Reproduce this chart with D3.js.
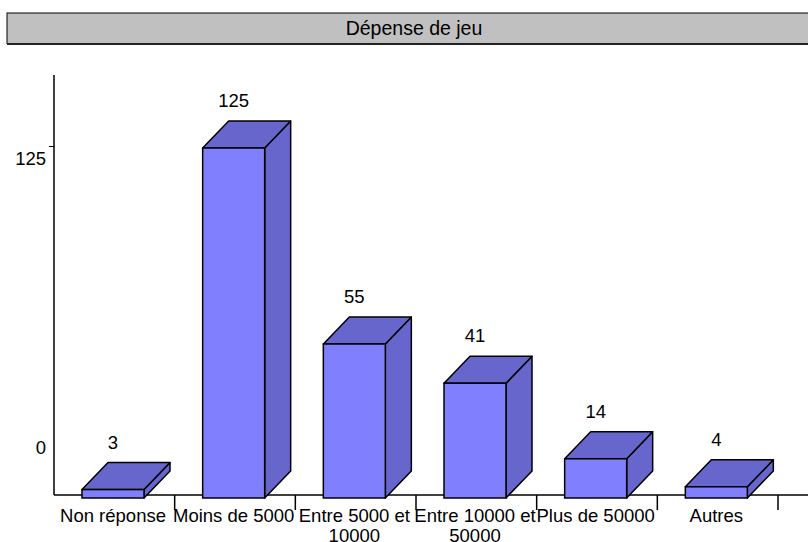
<!DOCTYPE html>
<html>
<head>
<meta charset="utf-8">
<script src="https://cdn.jsdelivr.net/npm/d3@7"></script>
<style>
  html, body { margin: 0; padding: 0; background: #fff; }
  svg { display: block; font-family: "Liberation Sans", Arial, sans-serif; }
</style>
</head>
<body>
<svg id="chart" width="808" height="542"></svg>
<script>
// Spending categories and respondent counts
const categories = ["Non réponse", "Moins de 5000", "Entre 5000 et 10000", "Entre 10000 et 50000", "Plus de 50000", "Autres"];
const counts = [3, 125, 55, 41, 14, 4];
const axisTicks = [0, 125];
const title = "Dépense de jeu";

// Category labels split into lines
const labelLines = [["Non réponse"], ["Moins de 5000"], ["Entre 5000 et", "10000"], ["Entre 10000 et", "50000"], ["Plus de 50000"], ["Autres"]];

const svg = d3.select("#chart");
const W = 808, H = 542;

const plotLeft = 54, plotRight = 778, baseY = 495;
const depthX = 26, depthY = 27;

const x = d3.scaleBand().domain(categories).range([plotLeft, plotRight]).paddingInner(0).paddingOuter(0);
const y = d3.scaleLinear().domain([0, 125]).range([498, 148]);
// Left axis has its own placement of the two reference ticks
const yAxisScale = d3.scaleLinear().domain([0, 125]).range([435, 146]);

const frontColor = "#8080ff";
const shadeColor = "#6666cc";

// Title bar
svg.append("rect")
  .attr("x", 7).attr("y", 13).attr("width", 820).attr("height", 30.5)
  .attr("fill", "#c0c0c0").attr("stroke", "#000").attr("stroke-width", 1);
svg.append("line")
  .attr("x1", 7).attr("x2", 808).attr("y1", 44).attr("y2", 44)
  .attr("stroke", "#222").attr("stroke-width", 2);
svg.append("text")
  .attr("x", 414).attr("y", 35)
  .attr("text-anchor", "middle")
  .attr("font-size", "19.5px")
  .attr("fill", "#000")
  .text(title);

// Axis lines
svg.append("line")
  .attr("x1", plotLeft).attr("x2", plotLeft).attr("y1", 75).attr("y2", baseY)
  .attr("stroke", "#000").attr("stroke-width", 1.5);
svg.append("line")
  .attr("x1", plotLeft).attr("x2", W).attr("y1", baseY).attr("y2", baseY)
  .attr("stroke", "#000").attr("stroke-width", 1.5);

// Left axis ticks and labels
const yAxis = d3.axisLeft(yAxisScale).tickValues(axisTicks).tickSize(5).tickSizeOuter(0).tickPadding(8);
const gy = svg.append("g").attr("transform", `translate(${plotLeft},0)`).call(yAxis);
gy.select(".domain").remove();
gy.selectAll(".tick line").attr("stroke", "#000").attr("stroke-width", 1)
  .attr("opacity", d => d === 0 ? 0 : 1);
gy.selectAll(".tick text")
  .attr("font-size", "18.5px").attr("font-family", "Liberation Sans, Arial, sans-serif")
  .attr("fill", "#000").attr("dy", "1.0em").attr("x", -8);

// Category separator ticks below the baseline
svg.selectAll("line.sep")
  .data(categories)
  .join("line")
  .attr("class", "sep")
  .attr("x1", d => x(d) + x.bandwidth()).attr("x2", d => x(d) + x.bandwidth())
  .attr("y1", baseY).attr("y2", baseY + 15)
  .attr("stroke", "#000").attr("stroke-width", 1.5);

// 3D bars
const faceOffset = 28, faceWidth = 62;
const bars = svg.selectAll("g.bar")
  .data(categories.map((c, i) => ({ c, v: counts[i] })))
  .join("g").attr("class", "bar");

const pts = arr => arr.map(p => p.join(",")).join(" ");

bars.each(function(d) {
  const g = d3.select(this);
  const x0 = x(d.c) + faceOffset, x1 = x0 + faceWidth;
  const yt = y(d.v), yb = y(0);
  g.append("polygon")
    .attr("points", pts([[x1, yt], [x1 + depthX, yt - depthY], [x1 + depthX, yb - depthY], [x1, yb]]))
    .attr("fill", shadeColor).attr("stroke", "#000").attr("stroke-width", 1.5).attr("stroke-linejoin", "round");
  g.append("polygon")
    .attr("points", pts([[x0, yt], [x0 + depthX, yt - depthY], [x1 + depthX, yt - depthY], [x1, yt]]))
    .attr("fill", shadeColor).attr("stroke", "#000").attr("stroke-width", 1.5).attr("stroke-linejoin", "round");
  g.append("rect")
    .attr("x", x0).attr("y", yt).attr("width", faceWidth).attr("height", yb - yt)
    .attr("fill", frontColor).attr("stroke", "#000").attr("stroke-width", 1.5);
  g.append("text")
    .attr("x", x0 + faceWidth / 2).attr("y", yt - depthY - 14)
    .attr("text-anchor", "middle").attr("font-size", "18.5px").attr("fill", "#000")
    .text(d.v);
});

// Category labels
svg.selectAll("text.cat")
  .data(categories)
  .join("text")
  .attr("class", "cat")
  .attr("text-anchor", "middle")
  .attr("font-size", "18.5px")
  .attr("fill", "#000")
  .each(function(d, i) {
    const cx = x(d) + faceOffset + faceWidth / 2;
    d3.select(this).selectAll("tspan")
      .data(labelLines[i])
      .join("tspan")
      .attr("x", cx)
      .attr("y", (t, j) => 522 + j * 20)
      .text(t => t);
  });
</script>
</body>
</html>
